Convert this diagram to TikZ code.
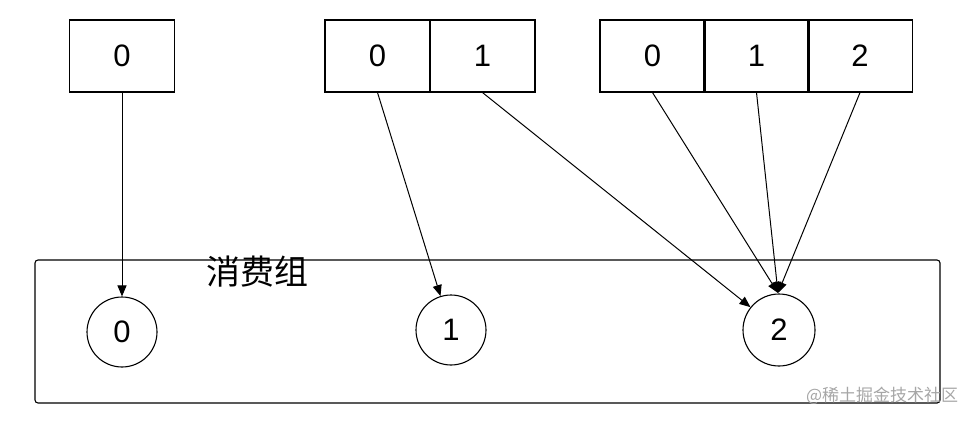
\documentclass[tikz,border=0pt]{standalone}
\usepackage{fontspec}
\setmainfont{Liberation Sans}
\newfontfamily\cjk{Noto Sans CJK SC}
\usetikzlibrary{arrows.meta}
\begin{document}
\begin{tikzpicture}[x=1pt,y=-1pt,line width=1.1pt,
  cell/.style={draw,minimum width=105pt,minimum height=72pt,inner sep=0pt,font=\fontsize{31}{36}\selectfont},
  circ/.style={draw,circle,minimum size=70pt,inner sep=0pt,font=\fontsize{31}{36}\selectfont},
  conn/.style={-{Triangle[length=11pt,width=9pt]},line width=1pt}]
\useasboundingbox (0,0) rectangle (971,422);
\node[cell] (a0) at (122,56) {0};
\node[cell] (b0) at (377.5,56) {0};
\node[cell] (b1) at (482.5,56) {1};
\node[cell] (c0) at (652.5,56) {0};
\node[cell] (c1) at (756.5,56) {1};
\node[cell] (c2) at (860,56) {2};
\draw[rounded corners=3pt] (35,260) rectangle (940,403);
\node[font=\cjk\fontsize{34}{38}\selectfont] (lbl) at (257,272) {消费组};
\node[circ] (p0) at (122,332) {0};
\node[circ] (p1) at (451,330) {1};
\node[circ,minimum size=72pt] (p2) at (779,330) {2};
\coordinate (m) at (778,293);
\draw[conn] (a0.south) -- (p0);
\draw[conn] (b0.south) -- (p1);
\draw[conn] (b1.south) -- (p2);
\draw[conn] (c0.south) -- (m);
\draw[conn] (c1.south) -- (m);
\draw[conn] (c2.south) -- (m);
\node[font=\cjk\fontsize{17}{20}\selectfont,text=black!35,anchor=east] (wm) at (962,396) {@稀土掘金技术社区};
\end{tikzpicture}
\end{document}
